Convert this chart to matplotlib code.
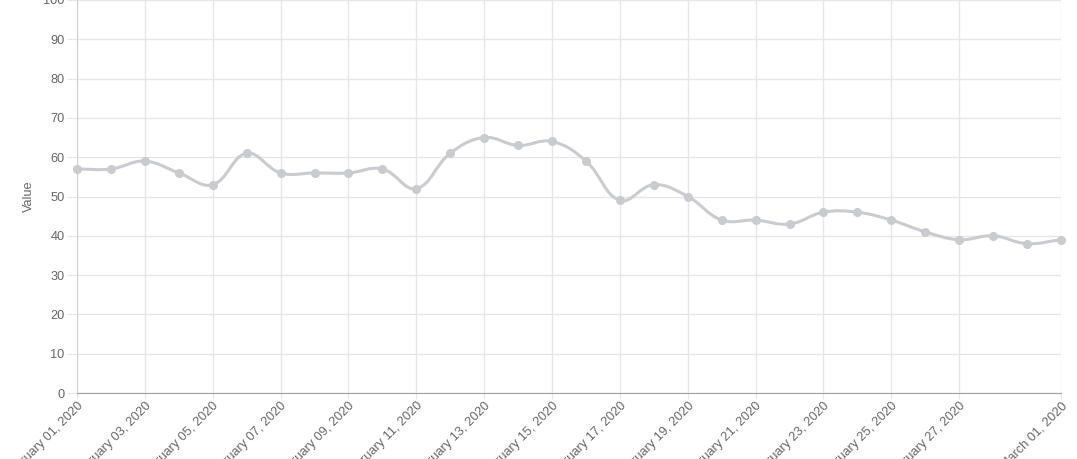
import numpy as np
import pandas as pd
import matplotlib
matplotlib.use("Agg")
import matplotlib.pyplot as plt
import matplotlib.dates as mdates
from matplotlib.path import Path
from matplotlib.patches import PathPatch

# ==========================================================
# Data
# ==========================================================

dates = pd.date_range("2020-02-01", "2020-03-01", freq="D")

values = [57, 57, 59, 56, 53, 61, 56, 56, 56, 57,
          52, 61, 65, 63, 64, 59, 49, 53, 50, 44,
          44, 43, 46, 46, 44, 41, 39, 40, 38, 39]

tick_dates = [d for d in dates if d.month == 2 and d.day % 2 == 1 and d.day < 29] + [dates[-1]]

LINE_COLOR = "#c9cbcf"
GRID_COLOR = "#e6e6e6"
TEXT_COLOR = "#666666"

plt.rcParams["font.family"] = ["Liberation Sans", "DejaVu Sans"]

# ==========================================================
# Figure
# ==========================================================

fig = plt.figure(figsize=(10.77, 4.59), dpi=100)
ax = fig.add_axes([77 / 1077, 66 / 459, 984 / 1077, 393 / 459])

ax.set_xlim(dates[0], dates[-1])
ax.set_ylim(0, 100)

# ----------------------------------------------------------
# Smooth line (bezier spline, tension 0.4) in pixel space
# ----------------------------------------------------------

xnum = mdates.date2num(dates.to_pydatetime())
pts = ax.transData.transform(np.column_stack([xnum, values]))
tension = 0.4
n = len(pts)
cp_prev = np.zeros_like(pts)
cp_next = np.zeros_like(pts)
for i in range(n):
    p0 = pts[i - 1] if i > 0 else pts[i]
    p1 = pts[i]
    p2 = pts[i + 1] if i < n - 1 else pts[i]
    d01 = np.hypot(*(p1 - p0))
    d12 = np.hypot(*(p2 - p1))
    tot = d01 + d12
    s01 = d01 / tot if tot else 0
    s12 = d12 / tot if tot else 0
    cp_prev[i] = p1 - tension * s01 * (p2 - p0)
    cp_next[i] = p1 + tension * s12 * (p2 - p0)

verts = [pts[0]]
codes = [Path.MOVETO]
for i in range(n - 1):
    verts += [cp_next[i], cp_prev[i + 1], pts[i + 1]]
    codes += [Path.CURVE4] * 3
verts = ax.transData.inverted().transform(np.array(verts))

ax.add_patch(PathPatch(Path(verts, codes), facecolor="none",
                       edgecolor=LINE_COLOR, lw=2.2, zorder=3))
ax.plot(dates, values, linestyle="none", marker="o", markersize=5.5,
        color=LINE_COLOR, zorder=4, clip_on=False)

# ----------------------------------------------------------
# Axes styling
# ----------------------------------------------------------

ax.set_yticks(range(0, 101, 10))
ax.set_xticks(tick_dates)
ax.set_xticklabels([d.strftime("%B %d, %Y") for d in tick_dates],
                   rotation=45, ha="right", rotation_mode="anchor")

ax.grid(True, color=GRID_COLOR, lw=1)
ax.set_axisbelow(True)

for side in ["top", "right"]:
    ax.spines[side].set_visible(False)
ax.spines["left"].set_color("#d0d0d0")
ax.spines["bottom"].set_color("#a0a0a0")

ax.tick_params(axis="both", colors=GRID_COLOR, labelsize=9.2,
               labelcolor=TEXT_COLOR)
ax.tick_params(axis="x", length=4, pad=1)
ax.tick_params(axis="y", length=7, pad=2)

ax.set_ylabel("Value", color=TEXT_COLOR, fontsize=9.2)
ax.yaxis.set_label_coords(-0.043, 0.5)

fig.savefig("out.png", dpi=100)
